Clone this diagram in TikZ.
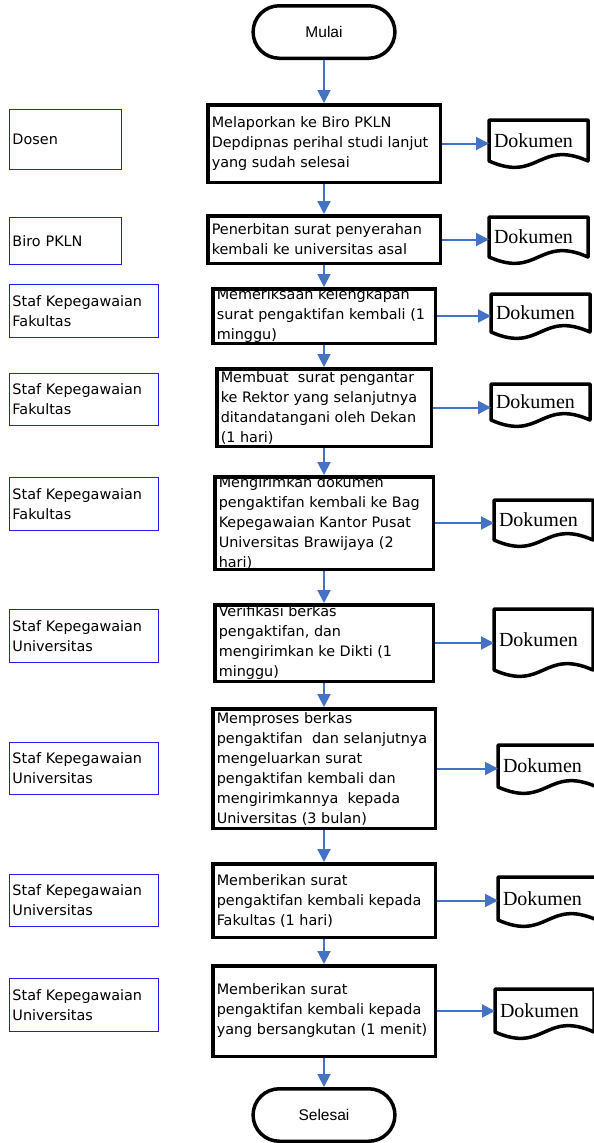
\documentclass[tikz,border=0pt]{standalone}
\usepackage{fontspec}
\setmainfont{DejaVu Sans}
\newfontfamily\hurufterm{Liberation Sans}
\newfontfamily\hurufdok{Liberation Serif}
\usetikzlibrary{arrows.meta, shapes.misc, calc}

\definecolor{birupanah}{RGB}{68,114,196}
\definecolor{birupelaku}{RGB}{30,30,235}

% isi kotak proses: lebar, tinggi, teks
\newcommand{\isi}[3]{\parbox[c][#2][c]{#1}{\fontsize{14.4pt}{20pt}\selectfont\raggedright #3}}

\begin{document}
\begin{tikzpicture}[
    x=1pt, y=-1pt,
    terminal/.style={rounded rectangle, draw, line width=3.5pt, minimum width=148.5pt, minimum height=52.5pt, font=\hurufterm\fontsize{15.5pt}{18pt}\selectfont},
    proses/.style={rectangle, draw, line width=3.5pt, inner xsep=4pt, inner ysep=0pt},
    dok/.style={rectangle, anchor=north west, outer sep=0pt, minimum width=99pt, inner xsep=5pt, text width=89pt, align=left, font=\hurufdok\fontsize{20pt}{24pt}\selectfont},
    dokgaris/.style={line width=3.5pt, line join=round},
    pelaku/.style={rectangle, draw=birupelaku, line width=1.2pt, inner xsep=3pt, text width=#1, align=left, font=\fontsize{14.4pt}{20pt}\selectfont},
    pelaku/.default=143pt,
    panah/.style={-{Triangle[length=13pt, width=13pt]}, birupanah, line width=2pt}
]
\useasboundingbox (0,0) rectangle (594,1143);

% ============ TERMINAL ============
\node[terminal] (mulai) at (324,32) {Mulai};
\node[terminal] (selesai) at (324,1115) {Selesai};

% ============ PROSES (TENGAH) ============
\node[proses] (p1) at (324,143.5) {\isi{224.5pt}{77.5pt}{Melaporkan ke Biro PKLN\\ Depdipnas perihal studi lanjut\\ yang sudah selesai}};
\node[proses] (p2) at (324,239.5) {\isi{224.5pt}{47.5pt}{Penerbitan surat penyerahan\\ kembali ke universitas asal}};
\node[proses] (p3) at (324,316) {\isi{214.5pt}{54.5pt}{Memeriksaan kelengkapan\\ surat pengaktifan kembali (1\\ minggu)}};
\node[proses] (p4) at (324,407.5) {\isi{206.5pt}{77.5pt}{Membuat\ \ surat pengantar\\ ke Rektor yang selanjutnya\\ ditandatangani oleh Dekan\\ (1 hari)}};
\node[proses] (p5) at (324,523) {\isi{210.5pt}{92.5pt}{Mengirimkan dokumen\\ pengaktifan kembali ke Bag\\ Kepegawaian Kantor Pusat\\ Universitas Brawijaya (2\\ hari)}};
\node[proses] (p6) at (324,643) {\isi{210.5pt}{76.5pt}{Verifikasi berkas\\ pengaktifan, dan\\ mengirimkan ke Dikti (1\\ minggu)}};
\node[proses] (p7) at (324,768.5) {\isi{214.5pt}{119.5pt}{Memproses berkas\\ pengaktifan\ \ dan selanjutnya\\ mengeluarkan surat\\ pengaktifan kembali dan\\ mengirimkannya\ \ kepada\\ Universitas (3 bulan)}};
\node[proses] (p8) at (324,900.5) {\isi{214.5pt}{73.5pt}{Memberikan surat\\ pengaktifan kembali kepada\\ Fakultas (1 hari)}};
\node[proses] (p9) at (324,1011) {\isi{214.5pt}{90.5pt}{Memberikan surat\\ pengaktifan kembali kepada\\ yang bersangkutan (1 menit)}};

% ============ DOKUMEN (KANAN) ============
\node[dok, minimum height=41pt] (d1) at (489,120) {Dokumen};
\node[dok, minimum height=40pt] (d2) at (489,217) {Dokumen};
\node[dok, minimum height=38pt] (d3) at (491,294) {Dokumen};
\node[dok, minimum height=36pt] (d4) at (491,384) {Dokumen};
\node[dok, minimum height=40pt] (d5) at (494,500) {Dokumen};
\node[dok, minimum height=61pt] (d6) at (494,609) {Dokumen};
\node[dok, minimum height=42pt] (d7) at (498,745) {Dokumen};
\node[dok, minimum height=43pt] (d8) at (498,877) {Dokumen};
\node[dok, minimum height=43pt] (d9) at (495,989) {Dokumen};

\foreach \i in {1,...,9}
    \draw[dokgaris] (d\i.north west) -- (d\i.north east) -- (d\i.south east)
        .. controls ($(d\i.south)+(0,-22)$) and ($(d\i.south)+(0,22)$) .. (d\i.south west) -- cycle;

% ============ PELAKU (KIRI) ============
\node[pelaku=106pt, minimum height=60pt] (l1) at (65.5,139.5) {Dosen};
\node[pelaku=106pt, minimum height=47pt] (l2) at (65.5,241) {Biro PKLN};
\node[pelaku, minimum height=53pt] (l3) at (84,311) {Staf Kepegawaian\\ Fakultas};
\node[pelaku, minimum height=52pt] (l4) at (84,399.5) {Staf Kepegawaian\\ Fakultas};
\node[pelaku, minimum height=53pt] (l5) at (84,504) {Staf Kepegawaian\\ Fakultas};
\node[pelaku, minimum height=53pt] (l6) at (84,636) {Staf Kepegawaian\\ Universitas};
\node[pelaku, minimum height=52pt] (l7) at (84,768.5) {Staf Kepegawaian\\ Universitas};
\node[pelaku, minimum height=52pt] (l8) at (84,900.5) {Staf Kepegawaian\\ Universitas};
\node[pelaku, minimum height=53pt] (l9) at (84,1005) {Staf Kepegawaian\\ Universitas};

% Panah
\foreach \a/\b in {mulai/p1, p1/p2, p2/p3, p3/p4, p4/p5, p5/p6, p6/p7, p7/p8, p8/p9, p9/selesai}
    \draw[panah] (\a.south) -- (\b.north);
\foreach \i in {1,...,9}
    \draw[panah] (p\i.east) -- (p\i.east -| d\i.west);

\end{tikzpicture}
\end{document}
